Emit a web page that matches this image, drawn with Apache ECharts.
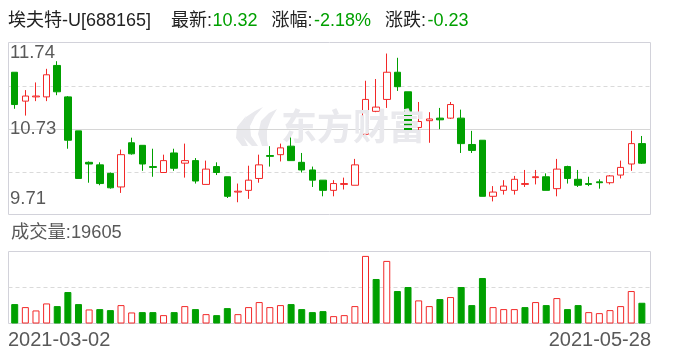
<!DOCTYPE html>
<html><head><meta charset="utf-8">
<script src="https://cdn.jsdelivr.net/npm/echarts@6/dist/echarts.min.js"></script>
<style>html,body{margin:0;padding:0;background:#fff}#c{width:688px;height:360px}</style>
</head><body><div id="c"></div>
<script>
const stockName = '埃夫特-U[688165]';
const dates = [
'2021-03-02','2021-03-03','2021-03-04','2021-03-05','2021-03-08','2021-03-09','2021-03-10','2021-03-11','2021-03-12',
'2021-03-15','2021-03-16','2021-03-17','2021-03-18','2021-03-19','2021-03-22','2021-03-23','2021-03-24','2021-03-25','2021-03-26',
'2021-03-29','2021-03-30','2021-03-31','2021-04-01','2021-04-02','2021-04-06','2021-04-07','2021-04-08','2021-04-09',
'2021-04-12','2021-04-13','2021-04-14','2021-04-15','2021-04-16','2021-04-19','2021-04-20','2021-04-21','2021-04-22','2021-04-23',
'2021-04-26','2021-04-27','2021-04-28','2021-04-29','2021-04-30','2021-05-06','2021-05-07','2021-05-10','2021-05-11','2021-05-12',
'2021-05-13','2021-05-14','2021-05-17','2021-05-18','2021-05-19','2021-05-20','2021-05-21','2021-05-24','2021-05-25','2021-05-26',
'2021-05-27','2021-05-28'];
const openP  = [11.39,11.05,11.10,11.10,11.47,11.10,10.70,10.33,10.30,10.20,10.04,10.56,10.53,10.28,10.21,10.44,10.32,10.35,10.07,10.28,
                10.16,9.98,10.00,10.14,10.41,10.42,10.52,10.33,10.24,10.12,10.00,10.07,10.06,10.66,10.93,11.07,11.39,11.16,10.74,10.82,
                10.85,10.85,10.85,10.54,10.59,9.93,10.00,10.00,10.07,10.15,10.16,10.02,10.28,10.13,10.08,10.10,10.09,10.18,10.31,10.55];
const closeP = [11.01,11.11,11.11,11.36,11.16,10.59,10.14,10.31,10.08,10.03,10.42,10.43,10.31,10.27,10.35,10.26,10.35,10.11,10.25,10.21,
                9.93,9.99,10.12,10.30,10.40,10.50,10.35,10.24,10.12,10.00,10.08,10.08,10.30,11.07,10.98,11.39,11.22,10.71,10.81,10.84,
                10.83,11.01,10.55,10.47,9.93,9.98,10.05,10.13,10.08,10.16,10.00,10.25,10.14,10.06,10.07,10.09,10.17,10.27,10.55,10.32];
const lowP   = [10.96,10.88,11.05,11.05,11.12,10.49,10.14,10.09,10.06,10.02,9.97,10.42,10.23,10.16,10.21,10.23,10.15,10.08,10.07,10.18,
                9.91,9.86,9.90,10.09,10.28,10.34,10.35,10.21,10.04,9.93,9.93,10.01,10.06,10.66,10.92,10.97,11.17,10.69,10.66,10.56,
                10.72,10.84,10.44,10.44,9.93,9.87,9.95,9.95,10.04,10.07,10.00,9.93,10.08,10.04,10.05,10.02,10.07,10.14,10.23,10.31];
const highP  = [11.39,11.18,11.27,11.43,11.52,11.11,10.70,10.34,10.33,10.21,10.48,10.62,10.53,10.49,10.42,10.49,10.55,10.38,10.35,10.33,
                10.16,10.08,10.29,10.42,10.52,10.55,10.66,10.44,10.28,10.12,10.12,10.15,10.37,11.29,11.31,11.61,11.56,11.16,11.04,10.92,
                10.97,11.04,10.95,10.70,10.59,10.05,10.12,10.17,10.24,10.24,10.20,10.37,10.29,10.24,10.16,10.13,10.18,10.35,10.70,10.64];
const volumes = [18340,15490,12330,18970,16440,29720,18340,13280,13600,12650,17390,10430,10750,10750,7900,10750,16440,13600,8850,7900,
                 14540,8850,15490,20240,15490,17390,18340,13600,10750,11700,6960,7900,16440,63870,42050,59130,30670,34470,21820,16440,
                 23080,24980,34470,17390,43000,15490,13600,13600,15490,20240,17390,24030,13600,17390,10750,9800,12650,16440,30670,19605];
const priceTickLabels = ['11.74','10.73','9.71'];
const priceMin = 9.71, priceMax = 11.74;
const volumeMax = 68500;

const UP = '#f22828', DOWN = '#00a000';
const LATIN = '"Liberation Sans", Arial, "Noto Sans CJK SC", sans-serif';
const chart = echarts.init(document.getElementById('c'), null, {renderer: 'canvas'});

const candleData = dates.map((d, i) => [openP[i], closeP[i], lowP[i], highP[i]]);
const volData = volumes.map((v, i) => {
  const prev = i > 0 ? closeP[i - 1] : openP[i];
  const up = closeP[i] > prev || (closeP[i] === prev && closeP[i] >= openP[i]);
  return {value: v, itemStyle: up ? {color: '#fff', borderColor: UP, borderWidth: 1} : {color: DOWN, borderColor: DOWN, borderWidth: 1}};
});

const hiddenCat = (g) => ({type: 'category', data: dates, gridIndex: g, boundaryGap: true,
  axisLine: {show: false}, axisTick: {show: false}, axisLabel: {show: false}, splitLine: {show: false}});
const hiddenVal = (g, mn, mx) => ({type: 'value', gridIndex: g, min: mn, max: mx, scale: true,
  axisLine: {show: false}, axisTick: {show: false}, axisLabel: {show: false}, splitLine: {show: false}});

chart.setOption({
  animation: false,
  grid: [{left: 9.4, top: 42.5, width: 637.8, height: 172.5}, {left: 9.4, top: 251, width: 637.8, height: 72.5}],
  xAxis: [hiddenCat(0), hiddenCat(1)],
  yAxis: [hiddenVal(0, priceMin, priceMax), hiddenVal(1, 0, volumeMax)],
  series: [
    {type: 'candlestick', xAxisIndex: 0, yAxisIndex: 0, data: candleData, barWidth: 7, z: 3,
     itemStyle: {color: '#ffffff', color0: DOWN, borderColor: UP, borderColor0: DOWN, borderWidth: 1}},
    {type: 'bar', xAxisIndex: 1, yAxisIndex: 1, data: volData, barWidth: 7, z: 3}
  ]
});

const py = (v) => chart.convertToPixel({yAxisIndex: 0}, v);
const vy = (v) => chart.convertToPixel({yAxisIndex: 1}, v);
const L = 8.5, R = 650.5;
const crisp = (y) => Math.round(y) + 0.5;
const hline = (y, dashed) => ({type: 'line', silent: true, z: 1,
  shape: {x1: L, y1: crisp(y), x2: R, y2: crisp(y)},
  style: {stroke: dashed ? '#dadada' : '#d6d6d6', lineWidth: 1, lineDash: dashed ? [4, 3] : null}});
const txt = (x, y, s, fill, font, align) => ({type: 'text', silent: true, z: 5,
  style: {x: x, y: y, text: s, fill: fill, font: font, textAlign: align || 'left', align: align || 'left',
          verticalAlign: 'middle', textVerticalAlign: 'middle'}});
const poly = (pts) => ({type: 'polygon', silent: true, z: 0, shape: {points: pts}, style: {fill: '#e9e9ed'}});

const q = (priceMax - priceMin) / 4;
const last = closeP.length - 1;
const chg = closeP[last] - closeP[last - 1];
const pct = chg / closeP[last - 1] * 100;
const TF = '18px ' + LATIN;
const graphics = [
  // watermark logo + text
  poly([[252,146],[243,137],[241,127],[246,117],[255,111],[263,107],[255,116],[250,126],[251,136],[258,146]]),
  poly([[262,146],[258,134],[261,121],[269,113],[277,109],[271,119],[267,130],[267,140],[268,146]]),
  poly([[242,146],[236,138],[237,127],[246,116],[243,126],[243,136],[248,146]]),
  txt(281, 126, '东方财富', '#e9e9ed', 'bold 36px "Noto Sans CJK SC", sans-serif'),
  // frames
  {type: 'rect', silent: true, z: 1, shape: {x: L, y: 42.5, width: R - L, height: 172}, style: {fill: null, stroke: '#d2d2da', lineWidth: 1}},
  {type: 'rect', silent: true, z: 1, shape: {x: L, y: 251.5, width: R - L, height: 72}, style: {fill: null, stroke: '#d2d2da', lineWidth: 1}},
  hline(py(priceMin + q), true), hline(py(priceMin + 2 * q), false), hline(py(priceMin + 3 * q), true),
  hline(vy(volumeMax / 2), true),
  // title
  txt(8, 21.5, stockName, '#222', TF),
  txt(171, 21.5, '最新:', '#222', TF),
  txt(212.5, 21.5, closeP[last].toFixed(2), DOWN, TF),
  txt(271.5, 21.5, '涨幅:', '#222', TF),
  txt(314, 21.5, pct.toFixed(2) + '%', DOWN, TF),
  txt(385, 21.5, '涨跌:', '#222', TF),
  txt(427.5, 21.5, chg.toFixed(2), DOWN, TF),
  // volume label
  txt(11, 232.5, '成交量:' + volumes[last], '#595959', '18.3px ' + LATIN),
  // dates
  txt(8, 340.5, dates[0], '#595959', '20px ' + LATIN),
  txt(651, 340.5, dates[last], '#595959', '20px ' + LATIN, 'right')
];
const labelOffsets = [10, 0.5, -16.5];
priceTickLabels.forEach((s, i) => {
  graphics.push(txt(10, py(parseFloat(s)) + labelOffsets[i], s, '#595959', '18.5px ' + LATIN));
});
chart.setOption({graphic: graphics});
</script></body></html>
